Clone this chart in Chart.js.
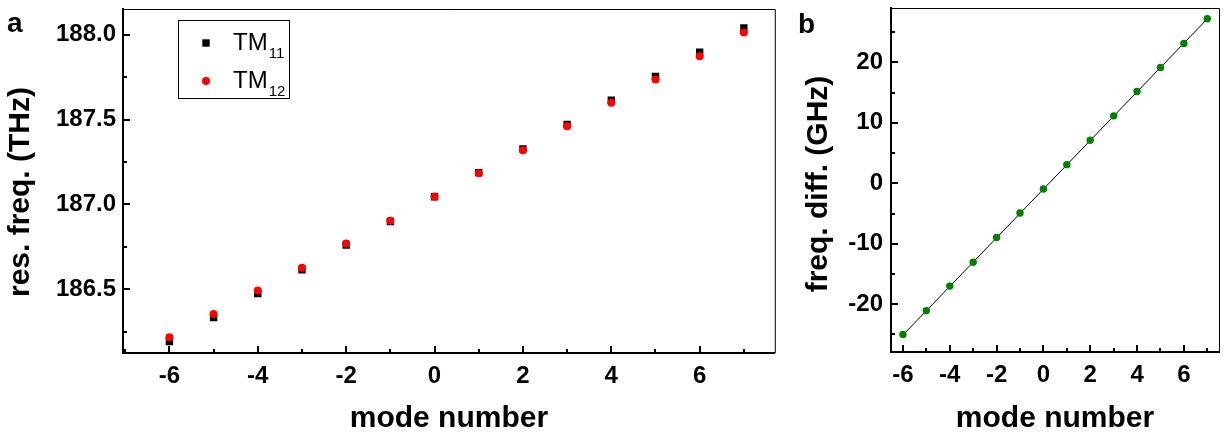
<!DOCTYPE html>
<html>
<head>
<meta charset="utf-8">
<script src="https://cdn.jsdelivr.net/npm/chart.js@4.4.1/dist/chart.umd.min.js"></script>
<style>
  html, body { margin: 0; padding: 0; background: #fff; }
  #wrap { position: relative; width: 1225px; height: 434px; overflow: hidden; }
  #left  { position: absolute; left: 0;     top: 0; }
  #right { position: absolute; left: 780px; top: 0; }
</style>
</head>
<body>
<div id="wrap">
  <canvas id="left"  width="780" height="434"></canvas>
  <canvas id="right" width="445" height="434"></canvas>
</div>
<script>
/* ============================================================
   DATA
============================================================ */
const modeNumbers = [-6, -5, -4, -3, -2, -1, 0, 1, 2, 3, 4, 5, 6, 7];
const tm11Freq = [186.192, 186.333, 186.475, 186.614, 186.760, 186.899, 187.045,
                  187.187, 187.327, 187.472, 187.614, 187.755, 187.897, 188.041];
const tm12Freq = [186.217, 186.354, 186.492, 186.627, 186.769, 186.904, 187.046,
                  187.184, 187.320, 187.461, 187.599, 187.736, 187.874, 188.014];
const freqDiff = [-25.0, -21.05, -17.0, -13.05, -8.95, -4.92, -0.94,
                  3.09, 7.13, 11.16, 15.18, 19.17, 23.14, 27.23];
const fitX = [-6, 7];
const fitY = [-25.1, 27.2];

const legendBase = 'TM';
const legendSubs = ['11', '12'];
const panelLabels = ['a', 'b'];
const yTitles = ['res. freq. (THz)', 'freq. diff. (GHz)'];
const xTitle = 'mode number';

const FONT = '"Liberation Sans", Arial, sans-serif';
const pts = (xs, ys) => xs.map((x, i) => ({ x, y: ys[i] }));

/* ============================================================
   PLUGINS
============================================================ */
// inward major/minor ticks + thin top/right frame
const frameTicks = {
  id: 'frameTicks',
  afterDraw(chart) {
    const { ctx, chartArea: a } = chart;
    ctx.save();
    ctx.strokeStyle = '#000';
    ctx.lineWidth = 1;
    ctx.beginPath();
    ctx.moveTo(a.left, a.top + 0.5);
    ctx.lineTo(a.right + 0.5, a.top + 0.5);
    ctx.lineTo(a.right + 0.5, a.bottom);
    ctx.stroke();

    ctx.lineWidth = 2;
    ['x', 'y'].forEach(id => {
      const s = chart.scales[id];
      const step = s.options.ticks.stepSize;
      const majors = s.ticks.map(t => t.value);
      const minors = majors.map(v => v - step / 2)
        .concat(majors[majors.length - 1] + step / 2)
        .filter(v => v > s.min && v < s.max);
      const draw = (v, len) => {
        const p = Math.round(s.getPixelForValue(v));
        ctx.beginPath();
        if (id === 'x') { ctx.moveTo(p, a.bottom); ctx.lineTo(p, a.bottom - len); }
        else            { ctx.moveTo(a.left, p);   ctx.lineTo(a.left + len, p); }
        ctx.stroke();
      };
      majors.forEach(v => draw(v, 7));
      minors.forEach(v => draw(v, 4));
    });
    ctx.restore();
  }
};

// panel letter (a / b) and the rotated y-axis title
const panelText = {
  id: 'panelText',
  afterDraw(chart, args, opts) {
    const ctx = chart.ctx;
    ctx.save();
    ctx.fillStyle = '#000';
    ctx.font = 'bold 28px ' + FONT;
    ctx.textBaseline = 'alphabetic';
    ctx.fillText(opts.letter, opts.lx, opts.ly);

    ctx.translate(opts.tx, opts.ty);
    ctx.rotate(-Math.PI / 2);
    ctx.font = 'bold 30px ' + FONT;
    ctx.textAlign = 'center';
    ctx.textBaseline = 'middle';
    ctx.fillText(opts.title, 0, 0);
    ctx.restore();
  }
};

// legend with subscripts (TM11 / TM12)
const subLegend = {
  id: 'subLegend',
  afterDraw(chart) {
    const ctx = chart.ctx;
    ctx.save();
    ctx.strokeStyle = '#000';
    ctx.lineWidth = 1;
    ctx.strokeRect(178.5, 20.5, 111, 78);
    chart.data.datasets.forEach((ds, i) => {
      const cy = 43 + i * 38;
      ctx.fillStyle = ds.backgroundColor;
      if (ds.pointStyle === 'rect') {
        ctx.fillRect(206 - 3.7, cy - 3.7, 7.4, 7.4);
      } else {
        ctx.beginPath();
        ctx.arc(206, cy, 4, 0, Math.PI * 2);
        ctx.fill();
      }
      ctx.fillStyle = '#000';
      ctx.textBaseline = 'alphabetic';
      ctx.font = '24px ' + FONT;
      const base = cy + 6.5;
      ctx.fillText(legendBase, 233, base);
      const w = ctx.measureText(legendBase).width;
      ctx.font = '15px ' + FONT;
      ctx.fillText(legendSubs[i], 233 + w + 1, base + 8);
    });
    ctx.restore();
  }
};

/* ============================================================
   SHARED AXIS OPTIONS
============================================================ */
function axis(opts) {
  return {
    type: 'linear',
    min: opts.min,
    max: opts.max,
    grid: { display: false, drawTicks: false },
    border: { display: true, width: 2, color: '#000' },
    ticks: {
      stepSize: opts.step,
      includeBounds: false,
      padding: opts.pad,
      color: '#000',
      font: { family: FONT, size: 24, weight: 'bold' },
      callback: opts.fmt || (v => v)
    },
    title: {
      display: !!opts.title,
      text: opts.title || '',
      color: '#000',
      font: { family: FONT, size: 30, weight: 'bold', lineHeight: 1 },
      padding: { top: 0, bottom: 0 }
    },
    afterFit: s => {
      // fixed box size, no label overhang padding
      if (s.isHorizontal()) s.height = opts.size; else s.width = opts.size;
      s.paddingTop = s.paddingBottom = s.paddingLeft = s.paddingRight = 0;
    }
  };
}

Chart.defaults.animation = false;

/* ============================================================
   PANEL a  —  resonance frequencies
============================================================ */
new Chart(document.getElementById('left'), {
  type: 'scatter',
  data: {
    datasets: [
      {
        label: 'TM11',
        data: pts(modeNumbers, tm11Freq),
        pointStyle: 'rect',
        pointRadius: 5.2,
        borderWidth: 0,
        backgroundColor: '#000',
        borderColor: '#000',
        order: 1
      },
      {
        label: 'TM12',
        data: pts(modeNumbers, tm12Freq),
        pointStyle: 'circle',
        pointRadius: 4,
        borderWidth: 0,
        backgroundColor: '#ff0000',
        borderColor: '#ff0000',
        order: 0
      }
    ]
  },
  options: {
    responsive: false,
    layout: { padding: { top: 9, right: 4, left: 0, bottom: 0 } },
    plugins: {
      legend: { display: false },
      tooltip: { enabled: false },
      panelText: { letter: panelLabels[0], lx: 7, ly: 32, title: yTitles[0], tx: 21, ty: 192 }
    },
    scales: {
      x: axis({ min: -7.05, max: 7.7, step: 2, pad: 9, title: xTitle, size: 81 }),
      y: axis({ min: 186.124, max: 188.152, step: 0.5, pad: 7, size: 123,
                fmt: v => v.toFixed(1) })
    }
  },
  plugins: [frameTicks, subLegend, panelText]
});

/* ============================================================
   PANEL b  —  frequency difference
============================================================ */
new Chart(document.getElementById('right'), {
  type: 'scatter',
  data: {
    datasets: [
      {
        label: 'fit',
        data: pts(fitX, fitY),
        showLine: true,
        pointRadius: 0,
        borderColor: '#000',
        borderWidth: 1,
        order: 1
      },
      {
        label: 'diff',
        data: pts(modeNumbers, freqDiff),
        pointStyle: 'circle',
        pointRadius: 3.7,
        borderWidth: 0,
        backgroundColor: '#008000',
        borderColor: '#008000',
        order: 0
      }
    ]
  },
  options: {
    responsive: false,
    layout: { padding: { top: 8, right: 6, left: 0, bottom: 0 } },
    plugins: {
      legend: { display: false },
      tooltip: { enabled: false },
      panelText: { letter: panelLabels[1], lx: 18, ly: 33, title: yTitles[1], tx: 39, ty: 184 }
    },
    scales: {
      x: axis({ min: -6.51, max: 7.5, step: 2, pad: 9, title: xTitle, size: 82 }),
      y: axis({ min: -27.9, max: 29, step: 10, pad: 8, size: 111 })
    }
  },
  plugins: [frameTicks, panelText]
});
</script>
</body>
</html>
